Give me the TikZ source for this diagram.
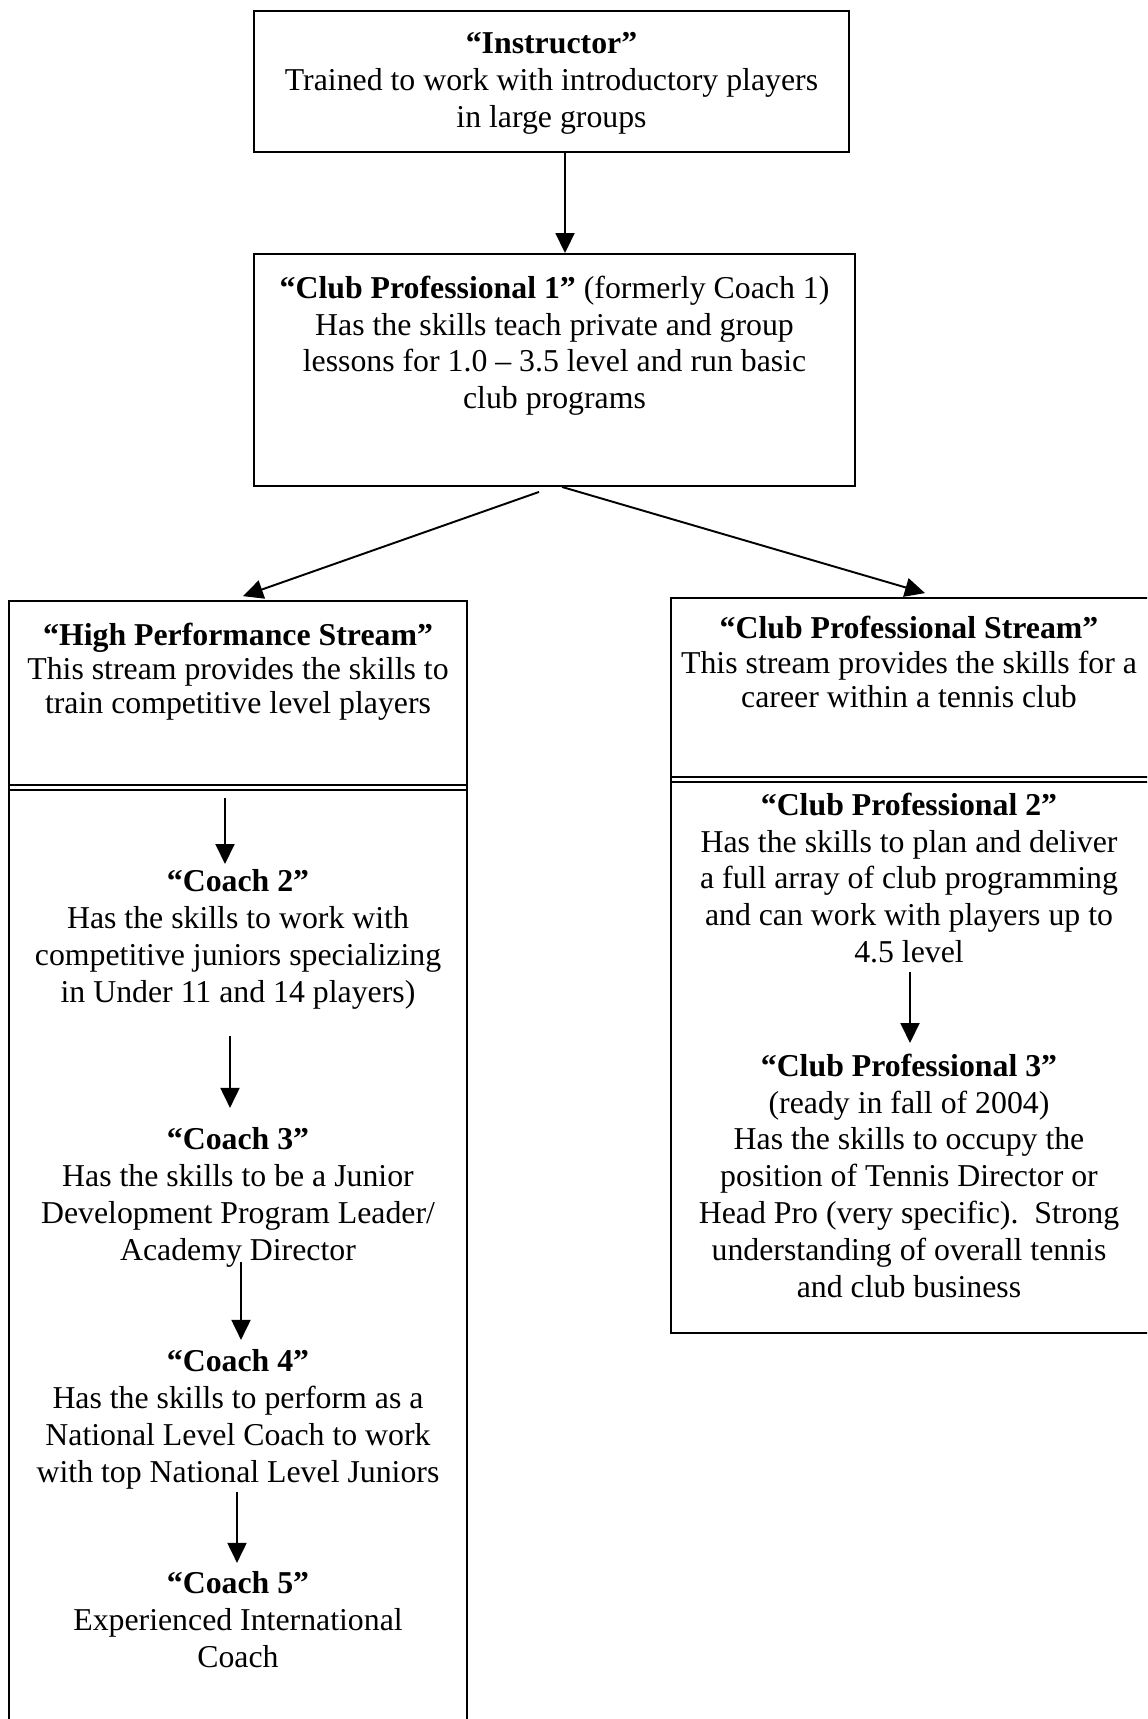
\documentclass[tikz,border=0pt]{standalone}
\usepackage{fontspec}
\setmainfont{Liberation Serif}
\usetikzlibrary{arrows.meta}

\begin{document}
\begin{tikzpicture}[x=0.02cm, y=-0.02cm]
  \tikzset{
    box/.style={draw, line width=1.1pt, inner sep=0pt},
    txt/.style={align=center, inner sep=0pt, anchor=north, font=\fontsize{18.1}{20.95}\selectfont,
      execute at begin node={\rule{0pt}{14pt}}},
    headtxt/.style={txt, font=\fontsize{18.1}{19.5}\selectfont},
    arr/.style={line width=1.1pt, -{Triangle[length=0.4cm, width=0.38cm]}},
    rule/.style={line width=0.9pt}
  }

  % page size
  \clip (0,0) rectangle (1147,1719);

  % Boxes
  \node[box, minimum width=11.9cm, minimum height=2.82cm] (instr) at (551.5,81.5) {};
  \node[box, minimum width=12.02cm, minimum height=4.64cm] (cpone) at (554.5,370) {};
  \node[box, minimum width=9.16cm, minimum height=23.18cm] (hps) at (238,1180.5) {};
  \node[box, minimum width=9.98cm, minimum height=14.7cm] (cps) at (920.5,965.5) {};

  % Double rules under the stream titles
  \draw[rule] (hps.west |- 0,785) -- (hps.east |- 0,785);
  \draw[rule] (hps.west |- 0,790) -- (hps.east |- 0,790);
  \draw[rule] (cps.west |- 0,777) -- (cps.east |- 0,777);
  \draw[rule] (cps.west |- 0,782) -- (cps.east |- 0,782);

  % Top texts
  \node[txt] (instrtxt) at (551.5,32.5) {\textbf{``Instructor''}\\Trained to work with introductory players\\in large groups};
  \node[txt] (cponetxt) at (554.5,275.5) {\textbf{``Club Professional 1''} (formerly Coach 1)\\Has the skills teach private and group\\lessons for 1.0 -- 3.5 level and run basic\\club programs};

  % High performance stream
  \node[headtxt] (hpstxt) at (238,622.4) {\textbf{``High Performance Stream''}\\This stream provides the skills to\\train competitive level players};
  \node[txt] (coachtwo) at (238,869.5) {\textbf{``Coach 2''}\\Has the skills to work with\\competitive juniors specializing\\in Under 11 and 14 players)};
  \node[txt] (coachthree) at (238,1127.4) {\textbf{``Coach 3''}\\Has the skills to be a Junior\\Development Program Leader/\\Academy Director};
  \node[txt] (coachfour) at (238,1349.4) {\textbf{``Coach 4''}\\Has the skills to perform as a\\National Level Coach to work\\with top National Level Juniors};
  \node[txt] (coachfive) at (238,1571.4) {\textbf{``Coach 5''}\\Experienced International\\Coach};

  % Club professional stream
  \node[headtxt] (cpstxt) at (909,616) {\textbf{``Club Professional Stream''}\\This stream provides the skills for a\\career within a tennis club};
  \node[txt] (cptwo) at (909,792.5) {\textbf{``Club Professional 2''}\\Has the skills to plan and deliver\\a full array of club programming\\and can work with players up to\\4.5 level};
  \node[txt] (cpthree) at (909,1053.5) {\textbf{``Club Professional 3''}\\(ready in fall of 2004)\\Has the skills to occupy the\\position of Tennis Director or\\Head Pro (very specific).\ \ Strong\\understanding of overall tennis\\and club business};

  % Arrows between boxes
  \draw[arr] ([xshift=0.27cm]instr.south) -- ([xshift=0.21cm]cpone.north);
  \draw[arr] ([xshift=-0.31cm, yshift=-0.1cm]cpone.south) -- ([xshift=0.1cm, yshift=0.08cm]hps.north);
  \draw[arr] ([xshift=0.15cm]cpone.south) -- ([xshift=0.09cm, yshift=0.08cm]cps.north);

  % Arrows inside the streams
  \coordinate (hpsgo) at (225,798);
  \coordinate (twogo) at (230,1036);
  \coordinate (threego) at (241,1262);
  \coordinate (fourgo) at (237,1492);
  \coordinate (cpgo) at (910,972);
  \draw[arr, shorten >=0.11cm] (hpsgo) -- (hpsgo |- coachtwo.north);
  \draw[arr, shorten >=0.39cm] (twogo) -- (twogo |- coachthree.north);
  \draw[arr, shorten >=0.19cm] (threego) -- (threego |- coachfour.north);
  \draw[arr, shorten >=0.17cm] (fourgo) -- (fourgo |- coachfive.north);
  \draw[arr, shorten >=0.21cm] (cpgo) -- (cpgo |- cpthree.north);
\end{tikzpicture}
\end{document}
